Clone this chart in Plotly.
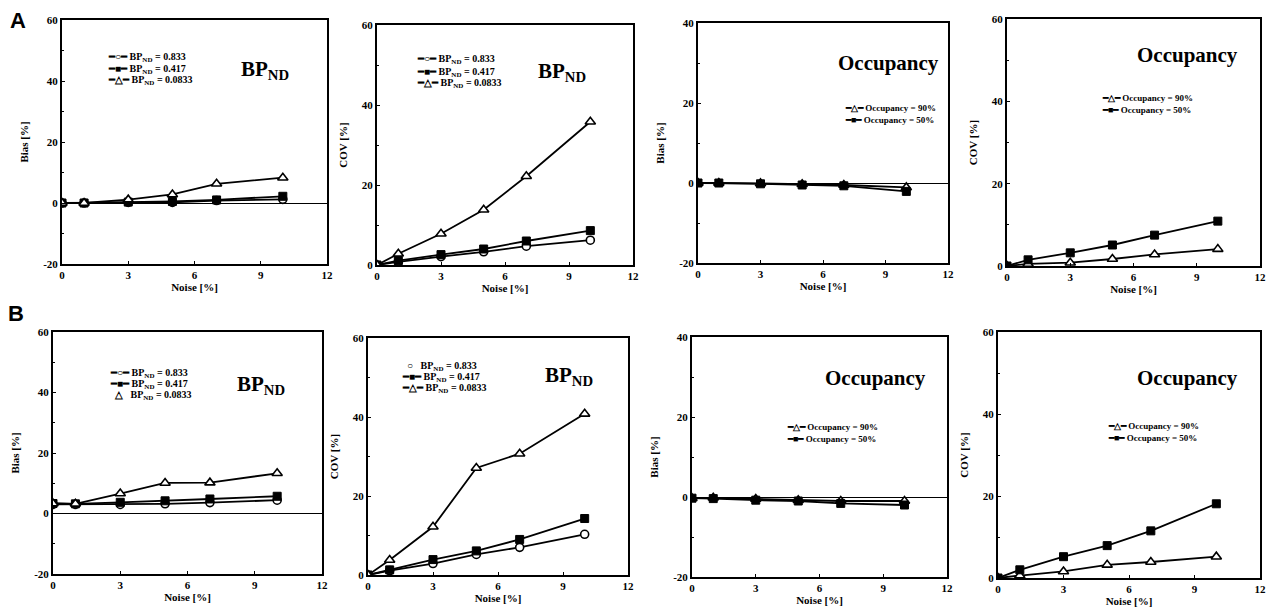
import plotly.graph_objects as go

# ---------------- data ----------------
noise = [0, 1, 3, 5, 7, 10]
x_ticks = [0, 3, 6, 9, 12]
bias_ticks_wide = [-20, 0, 20, 40, 60]
bias_ticks_narrow = [-20, 0, 20, 40]
cov_ticks = [0, 20, 40, 60]

# Row A
a_bias_bp0833 = [0, 0, 0.2, 0.2, 0.8, 1.2]
a_bias_bp0417 = [0, 0, 0.3, 0.5, 1.0, 2.2]
a_bias_bp00833 = [0, 0, 1.1, 2.8, 6.3, 8.3]
a_cov_bp0833 = [0, 0.8, 2.1, 3.3, 4.7, 6.2]
a_cov_bp0417 = [0, 1.1, 2.6, 4.0, 6.0, 8.6]
a_cov_bp00833 = [0, 2.8, 7.8, 13.8, 22.2, 35.8]
a_bias_occ90 = [0, 0, -0.1, -0.3, -0.5, -1.1]
a_bias_occ50 = [0, 0, -0.2, -0.5, -0.7, -2.1]
a_cov_occ90 = [0, 0.5, 0.8, 1.7, 2.8, 4.1]
a_cov_occ50 = [0, 1.5, 3.2, 5.1, 7.5, 10.9]

# Row B
b_bias_bp0833 = [3.0, 3.0, 3.0, 3.2, 3.6, 4.4]
b_bias_bp0417 = [3.3, 3.2, 3.7, 4.2, 4.8, 5.7]
b_bias_bp00833 = [3.3, 3.2, 6.6, 10.1, 10.2, 13.3]
b_cov_bp0833 = [0, 1.1, 2.9, 5.2, 7.0, 10.3]
b_cov_bp0417 = [0, 1.3, 3.9, 6.1, 9.0, 14.3]
b_cov_bp00833 = [0, 3.8, 12.2, 27.1, 30.7, 40.8]
b_bias_occ90 = [-0.3, -0.2, -0.5, -0.8, -1.0, -1.0]
b_bias_occ50 = [-0.3, -0.4, -0.8, -1.0, -1.6, -2.0]
b_cov_occ90 = [0, 0.6, 1.6, 3.2, 3.9, 5.2]
b_cov_occ50 = [0, 2.0, 5.2, 7.9, 11.5, 18.1]

bp_labels = ["BP<sub>ND</sub> = 0.833", "BP<sub>ND</sub> = 0.417", "BP<sub>ND</sub> = 0.0833"]
occ_labels = ["Occupancy = 90%", "Occupancy = 50%"]

# ---------------- layout helpers ----------------
PAGE_W, PAGE_H = 1274, 615
OFF = 8  # default body margin of the html page
W, H = PAGE_W - 2 * OFF, PAGE_H - 2 * OFF
SERIF = "Liberation Serif"


def fx(p):
    return (p - OFF) / W


def fy(p):
    return 1 - (p - OFF) / H


STY = {
    "circle": dict(symbol="circle", color="white", line=dict(color="black", width=1.6), size=8),
    "square": dict(symbol="square", color="black", line=dict(color="black", width=1), size=8),
    "triangle": dict(symbol="triangle-up", color="white", line=dict(color="black", width=1.6), size=9),
}
GLYPH = {"circle": "━○━", "square": "━■━", "triangle": "━△━"}

panels = [
    # A row
    dict(dom=(62, 327, 20, 264), yr=(-20, 60), yticks=bias_ticks_wide, yt="Bias [%]",
         series=[(a_bias_bp0833, "circle", bp_labels[0]), (a_bias_bp0417, "square", bp_labels[1]),
                 (a_bias_bp00833, "triangle", bp_labels[2])],
         head="BP<sub>ND</sub>", head_xy=(265, 70), leg_xy=(106, 57), leg_dy=12, leg_fs=10,
         glyphs=None),
    dict(dom=(377, 633, 25, 265), yr=(0, 60), yticks=cov_ticks, yt="COV [%]",
         series=[(a_cov_bp0833, "circle", bp_labels[0]), (a_cov_bp0417, "square", bp_labels[1]),
                 (a_cov_bp00833, "triangle", bp_labels[2])],
         head="BP<sub>ND</sub>", head_xy=(562, 72), leg_xy=(415, 60), leg_dy=12, leg_fs=10,
         glyphs=None),
    dict(dom=(698, 948, 23, 263), yr=(-20, 40), yticks=bias_ticks_narrow, yt="Bias [%]",
         series=[(a_bias_occ90, "triangle", occ_labels[0]), (a_bias_occ50, "square", occ_labels[1])],
         head="Occupancy", head_xy=(888, 63), leg_xy=(843, 108), leg_dy=12, leg_fs=9,
         glyphs=None),
    dict(dom=(1007, 1260, 19, 266), yr=(0, 60), yticks=cov_ticks, yt="COV [%]",
         series=[(a_cov_occ90, "triangle", occ_labels[0]), (a_cov_occ50, "square", occ_labels[1])],
         head="Occupancy", head_xy=(1187, 55), leg_xy=(1100, 98), leg_dy=12, leg_fs=9,
         glyphs=None),
    # B row
    dict(dom=(53, 322, 332, 574), yr=(-20, 60), yticks=bias_ticks_wide, yt="Bias [%]",
         series=[(b_bias_bp0833, "circle", bp_labels[0]), (b_bias_bp0417, "square", bp_labels[1]),
                 (b_bias_bp00833, "triangle", bp_labels[2])],
         head="BP<sub>ND</sub>", head_xy=(261, 385), leg_xy=(108, 373), leg_dy=11, leg_fs=10,
         glyphs=["━○━", "━■━", "  △  "]),
    dict(dom=(368, 628, 338, 575), yr=(0, 60), yticks=cov_ticks, yt="COV [%]",
         series=[(b_cov_bp0833, "circle", bp_labels[0]), (b_cov_bp0417, "square", bp_labels[1]),
                 (b_cov_bp00833, "triangle", bp_labels[2])],
         head="BP<sub>ND</sub>", head_xy=(569, 376), leg_xy=(400, 366), leg_dy=11, leg_fs=10,
         glyphs=["  ○  ", "━■━", "━△━"]),
    dict(dom=(692, 947, 337, 577), yr=(-20, 40), yticks=bias_ticks_narrow, yt="Bias [%]",
         series=[(b_bias_occ90, "triangle", occ_labels[0]), (b_bias_occ50, "square", occ_labels[1])],
         head="Occupancy", head_xy=(875, 378), leg_xy=(785, 427), leg_dy=12, leg_fs=9,
         glyphs=None),
    dict(dom=(998, 1260, 332, 578), yr=(0, 60), yticks=cov_ticks, yt="COV [%]",
         series=[(b_cov_occ90, "triangle", occ_labels[0]), (b_cov_occ50, "square", occ_labels[1])],
         head="Occupancy", head_xy=(1187, 378), leg_xy=(1106, 426), leg_dy=12, leg_fs=9,
         glyphs=None),
]

fig = go.Figure()
annotations = []
tickfont = dict(family=SERIF, size=11, color="black", weight="bold")
titlefont = dict(family=SERIF, size=11, color="black", weight="bold")

for i, p in enumerate(panels, start=1):
    xa = "x" if i == 1 else f"x{i}"
    ya = "y" if i == 1 else f"y{i}"
    x0, x1, y0, y1 = p["dom"]
    for vals, kind, name in p["series"]:
        fig.add_trace(go.Scatter(
            x=noise, y=vals, mode="lines+markers", name=name, showlegend=False,
            line=dict(color="black", width=1.8), marker=STY[kind],
            xaxis=xa, yaxis=ya,
        ))
    fig.update_layout(**{
        ("xaxis" if i == 1 else f"xaxis{i}"): dict(
            domain=[fx(x0), fx(x1)], anchor=ya, range=[0, 12], tickvals=x_ticks,
            showline=True, mirror=True, linecolor="black", linewidth=2,
            ticks="inside", ticklen=3, tickcolor="black", showgrid=False, zeroline=False,
            tickfont=tickfont, title=dict(text="Noise [%]", font=titlefont, standoff=3),
            automargin=False,
        ),
        ("yaxis" if i == 1 else f"yaxis{i}"): dict(
            domain=[fy(y1), fy(y0)], anchor=xa, range=list(p["yr"]),
            tickvals=p["yticks"], ticktext=[str(v) for v in p["yticks"]],
            showline=True, mirror=True, linecolor="black", linewidth=2,
            ticks="inside", ticklen=3, tickcolor="black",
            minor=dict(dtick=10, ticks="inside", ticklen=2, tickcolor="black"),
            showgrid=False, zeroline=p["yr"][0] < 0, zerolinecolor="black", zerolinewidth=1.4,
            tickfont=tickfont, title=dict(text=p["yt"], font=titlefont, standoff=12),
            automargin=False,
        ),
    })
    # heading text
    hx, hy = p["head_xy"]
    annotations.append(dict(
        x=fx(hx), y=fy(hy), xref="paper", yref="paper", text=p["head"], showarrow=False,
        xanchor="center", yanchor="middle",
        font=dict(family=SERIF, size=21, color="black", weight="bold"),
    ))
    # compact legend
    lx, ly = p["leg_xy"]
    glyphs = p["glyphs"] or [GLYPH[k] for _, k, _ in p["series"]]
    for j, (vals, kind, name) in enumerate(p["series"]):
        annotations.append(dict(
            x=fx(lx), y=fy(ly + j * p["leg_dy"]), xref="paper", yref="paper",
            text=f"{glyphs[j]} {name}", showarrow=False, xanchor="left", yanchor="middle",
            font=dict(family=SERIF, size=p["leg_fs"], color="black", weight="bold"),
        ))

# row labels
for lab, (lx, ly) in [("A", (18, 20)), ("B", (16, 313))]:
    annotations.append(dict(
        x=fx(lx), y=fy(ly), xref="paper", yref="paper", text=lab, showarrow=False,
        xanchor="center", yanchor="middle",
        font=dict(family="Liberation Sans", size=22, color="black", weight="bold"),
    ))

fig.update_layout(
    width=W, height=H, margin=dict(l=0, r=0, t=0, b=0),
    paper_bgcolor="white", plot_bgcolor="white",
    annotations=annotations, showlegend=False,
)

fig.write_html("out.html")
